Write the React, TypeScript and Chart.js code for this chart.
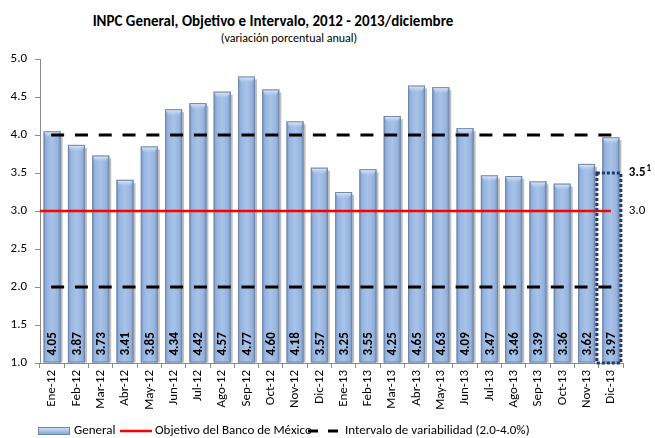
import React, { useEffect, useRef } from "react";
import { Chart, registerables } from "chart.js";

Chart.register(...registerables);

const categories = [
  "Ene-12", "Feb-12", "Mar-12", "Abr-12", "May-12", "Jun-12", "Jul-12", "Ago-12",
  "Sep-12", "Oct-12", "Nov-12", "Dic-12", "Ene-13", "Feb-13", "Mar-13", "Abr-13",
  "May-13", "Jun-13", "Jul-13", "Ago-13", "Sep-13", "Oct-13", "Nov-13", "Dic-13",
];
const general = [
  4.05, 3.87, 3.73, 3.41, 3.85, 4.34, 4.42, 4.57, 4.77, 4.6, 4.18, 3.57,
  3.25, 3.55, 4.25, 4.65, 4.63, 4.09, 3.47, 3.46, 3.39, 3.36, 3.62, 3.97,
];
const objetivo = 3.0;
const intervalo = [2.0, 4.0];
const pronosticoTope = 3.5;
const yMin = 1.0;
const yMax = 5.0;
const yStep = 0.5;

const FONT = 'Carlito, "Liberation Sans Narrow", "Liberation Sans", sans-serif';

const decorPlugin = {
  id: "decor",
  afterDatasetsDraw(chart: any) {
    const ctx = chart.ctx as CanvasRenderingContext2D;
    const meta = chart.getDatasetMeta(0);
    const xs = chart.scales.x;
    const ys = chart.scales.y;
    const area = chart.chartArea;
    meta.data.forEach((el: any, i: number) => {
      const { x, y, base, width } = el.getProps(["x", "y", "base", "width"], true);
      const l = x - width / 2;
      const r = x + width / 2;
      ctx.save();
      ctx.fillStyle = "rgba(110,110,110,0.45)";
      ctx.fillRect(r, y + 3, 2, base - y - 3);
      const g = ctx.createLinearGradient(l, 0, r, 0);
      g.addColorStop(0, "#7b98c4");
      g.addColorStop(0.18, "#97b5df");
      g.addColorStop(0.5, "#a7c3e9");
      g.addColorStop(0.82, "#97b4dd");
      g.addColorStop(1, "#7893bd");
      ctx.fillStyle = g;
      ctx.fillRect(l, y, width, base - y);
      const tg = ctx.createLinearGradient(0, y, 0, y + 7);
      tg.addColorStop(0, "#e8f0fb");
      tg.addColorStop(1, "rgba(167,195,233,0.2)");
      ctx.fillStyle = tg;
      ctx.beginPath();
      ctx.moveTo(l, y);
      ctx.lineTo(r, y);
      ctx.lineTo(r - 3, y + 6);
      ctx.lineTo(l + 3, y + 6);
      ctx.closePath();
      ctx.fill();
      ctx.strokeStyle = "#7088ab";
      ctx.lineWidth = 1;
      ctx.strokeRect(l + 0.5, y + 0.5, width - 1, base - y - 1);
      ctx.translate(x + 1, base - 7);
      ctx.rotate(-Math.PI / 2);
      ctx.font = "bold 13px " + FONT;
      ctx.fillStyle = "#000";
      ctx.textAlign = "left";
      ctx.textBaseline = "middle";
      ctx.fillText(general[i].toFixed(2), 0, 0);
      ctx.restore();
    });

    const n = categories.length;
    const xFirst = xs.getPixelForValue(0);
    const xLast = xs.getPixelForValue(n - 1);
    const catW = (xLast - xFirst) / (n - 1);

    ctx.save();
    // target line
    ctx.strokeStyle = "#ff0000";
    ctx.lineWidth = 2.5;
    const yObj = ys.getPixelForValue(objetivo);
    ctx.beginPath();
    ctx.moveTo(area.left, yObj);
    ctx.lineTo(xLast, yObj);
    ctx.stroke();
    // interval lines
    ctx.strokeStyle = "#000";
    ctx.lineWidth = 3;
    ctx.setLineDash([13, catW - 13.5]);
    intervalo.forEach((v) => {
      const yy = ys.getPixelForValue(v);
      ctx.beginPath();
      ctx.moveTo(xFirst - 1, yy);
      ctx.lineTo(xLast + 2, yy);
      ctx.stroke();
    });
    // dotted box around last bar
    ctx.strokeStyle = "#1f3a6e";
    ctx.lineWidth = 3;
    ctx.setLineDash([3, 2]);
    const bl = xLast - 14;
    const br = xLast + 10;
    const bt = ys.getPixelForValue(pronosticoTope);
    const bb = ys.getPixelForValue(yMin);
    ctx.strokeRect(bl, bt, br - bl, bb - bt);
    ctx.setLineDash([]);
    // side labels
    ctx.fillStyle = "#000";
    ctx.textBaseline = "middle";
    ctx.textAlign = "left";
    ctx.font = "bold 13px " + FONT;
    ctx.fillText(pronosticoTope.toFixed(1), br + 8, bt);
    const w35 = ctx.measureText(pronosticoTope.toFixed(1)).width;
    ctx.font = "bold 9px " + FONT;
    ctx.fillText("1", br + 8 + w35 + 1, bt - 4);
    ctx.font = "13px " + FONT;
    ctx.fillText(objetivo.toFixed(1), br + 8, yObj);
    ctx.restore();
  },
  afterDraw(chart: any) {
    const ctx = chart.ctx as CanvasRenderingContext2D;
    const yL = 431;
    ctx.save();
    ctx.font = "13px " + FONT;
    ctx.fillStyle = "#000";
    ctx.textBaseline = "middle";
    ctx.textAlign = "left";
    // General swatch
    const g = ctx.createLinearGradient(0, yL - 4, 0, yL + 4);
    g.addColorStop(0, "#dbe6f5");
    g.addColorStop(0.5, "#a7c3e9");
    g.addColorStop(1, "#7f9cc8");
    ctx.fillStyle = g;
    ctx.fillRect(38, yL - 4, 32, 8);
    ctx.strokeStyle = "#7088ab";
    ctx.lineWidth = 1;
    ctx.strokeRect(38.5, yL - 3.5, 31, 7);
    ctx.fillStyle = "#000";
    ctx.fillText("General", 74, yL);
    // red line
    ctx.strokeStyle = "#ff0000";
    ctx.lineWidth = 2.5;
    ctx.beginPath();
    ctx.moveTo(120, yL);
    ctx.lineTo(152, yL);
    ctx.stroke();
    ctx.fillText("Objetivo del Banco de México", 155, yL);
    // dashed
    ctx.strokeStyle = "#000";
    ctx.lineWidth = 3;
    ctx.beginPath();
    ctx.moveTo(308, yL);
    ctx.lineTo(318, yL);
    ctx.moveTo(328, yL);
    ctx.lineTo(338, yL);
    ctx.stroke();
    ctx.fillText("Intervalo de variabilidad (2.0-4.0%)", 345, yL);
    ctx.restore();
  },
};

export default function App() {
  const ref = useRef<HTMLCanvasElement | null>(null);
  useEffect(() => {
    document.body.style.margin = "0";
    if (!ref.current) return;
    const chart = new Chart(ref.current, {
      type: "bar",
      data: {
        labels: categories,
        datasets: [
          {
            label: "General",
            data: general,
            base: yMin,
            backgroundColor: "#a7c3e9",
            borderWidth: 0,
            barPercentage: 0.7,
            categoryPercentage: 1,
          },
        ],
      },
      options: {
        animation: false,
        responsive: false,
        devicePixelRatio: 1,
        layout: { padding: { top: 59, right: 32, bottom: 0, left: 0 } },
        plugins: {
          legend: { display: false },
          title: { display: false },
          tooltip: { enabled: false },
        },
        scales: {
          x: {
            grid: {
              drawOnChartArea: false,
              drawTicks: true,
              tickLength: 5,
              color: "#8c8c8c",
              offset: true,
            },
            border: { display: true, color: "#8c8c8c" },
            ticks: {
              minRotation: 90,
              maxRotation: 90,
              autoSkip: false,
              color: "#000",
              font: { family: FONT, size: 13 },
              padding: 2,
            },
            afterFit: (s: any) => {
              s.height = 75;
            },
          },
          y: {
            min: yMin,
            max: yMax,
            grid: {
              drawOnChartArea: false,
              drawTicks: true,
              tickLength: 5,
              color: "#8c8c8c",
            },
            border: { display: true, color: "#8c8c8c" },
            ticks: {
              stepSize: yStep,
              color: "#000",
              font: { family: FONT, size: 13 },
              padding: 8,
              callback: (v: any) => Number(v).toFixed(1),
            },
            afterFit: (s: any) => {
              s.width = 40;
            },
          },
        },
      },
      plugins: [decorPlugin],
    });
    return () => chart.destroy();
  }, []);

  return (
    <div style={{ position: "relative", width: 655, height: 438, background: "#fff", fontFamily: FONT }}>
      <div
        style={{
          position: "absolute",
          left: 0,
          width: 546,
          top: 12,
          textAlign: "center",
          fontWeight: "bold",
          fontSize: 15,
          lineHeight: "18px",
          color: "#000",
        }}
      >
        INPC General, Objetivo e Intervalo, 2012 - 2013/diciembre
      </div>
      <div
        style={{
          position: "absolute",
          left: 0,
          width: 578,
          top: 31,
          textAlign: "center",
          fontSize: 12,
          lineHeight: "14px",
          color: "#000",
        }}
      >
        (variación porcentual anual)
      </div>
      <canvas ref={ref} width={655} height={438} style={{ position: "absolute", left: 0, top: 0 }} />
    </div>
  );
}
